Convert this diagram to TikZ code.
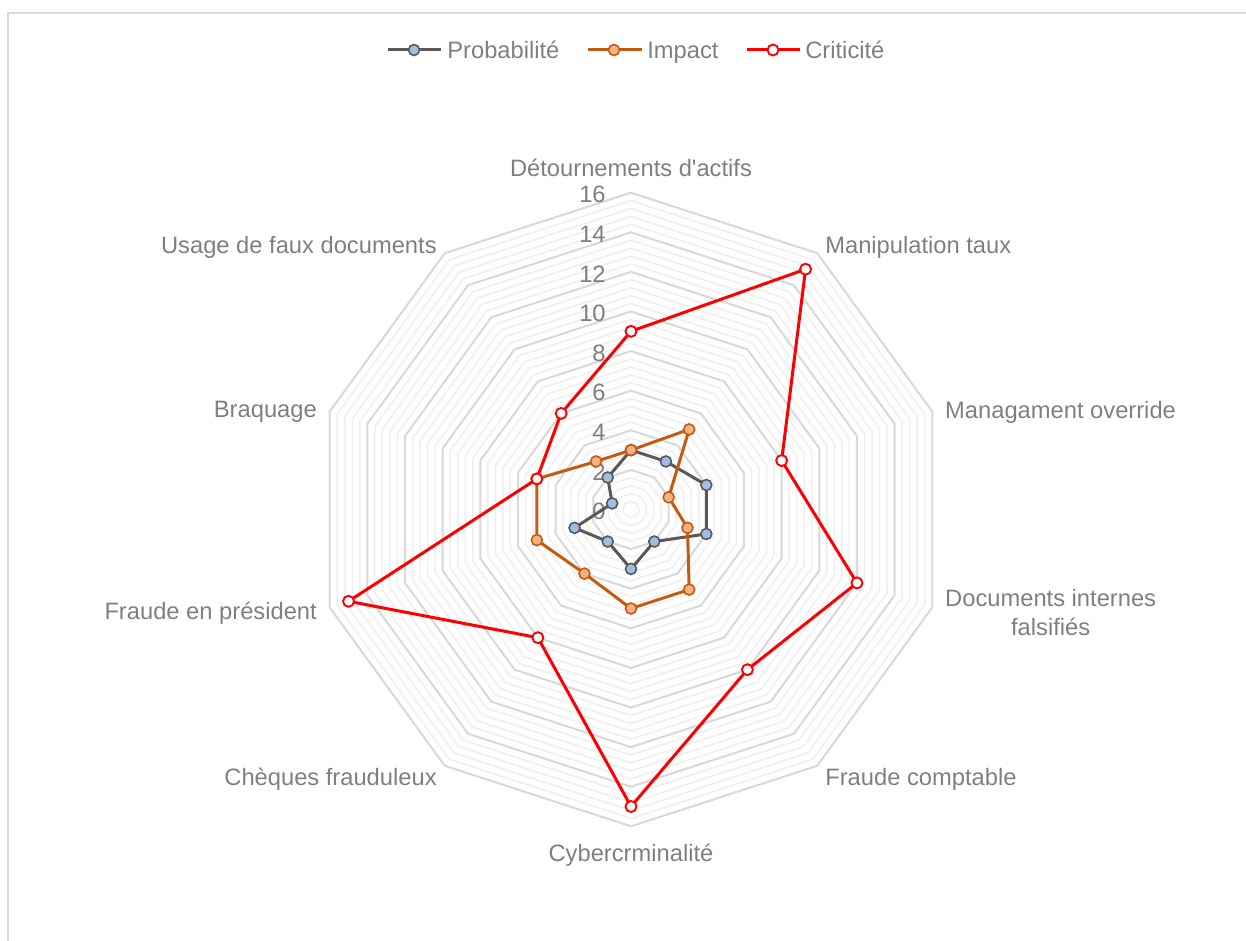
\documentclass[tikz,border=0pt]{standalone}
\usepackage{fontspec}
\setmainfont{Liberation Sans}
\usetikzlibrary{calc}
\definecolor{gridmaj}{HTML}{D9D9D9}
\definecolor{gridmin}{HTML}{EFEFEF}
\definecolor{txtgray}{HTML}{7F7F7F}
\definecolor{probgray}{HTML}{595959}
\definecolor{probfill}{HTML}{9DBFE6}
\definecolor{impbrown}{HTML}{C55A11}
\definecolor{impfill}{HTML}{F4B183}
\definecolor{critred}{HTML}{FF0000}
\tikzset{
  frame/.style={draw=gridmaj,line width=0.04cm},
  gridminor/.style={draw=gridmin,line width=0.03cm},
  gridmajor/.style={draw=gridmaj,line width=0.04cm},
  ticklabel/.style={anchor=east,inner sep=0pt,text=txtgray},
  catlabel/.style={inner sep=0pt,text=txtgray,align=center},
  legtext/.style={anchor=base west,inner sep=0pt,text=txtgray},
  probline/.style={draw=probgray,line width=0.06cm,line join=round},
  impline/.style={draw=impbrown,line width=0.06cm,line join=round},
  critline/.style={draw=critred,line width=0.06cm,line join=round},
  probmark/.style={circle,draw=probgray,fill=probfill,line width=0.032cm,minimum size=0.22cm,inner sep=0pt},
  impmark/.style={circle,draw=impbrown,fill=impfill,line width=0.032cm,minimum size=0.22cm,inner sep=0pt},
  critmark/.style={circle,draw=critred,fill=white,line width=0.038cm,minimum size=0.22cm,inner sep=0pt}
}
\newcommand{\decagon}[2]{%
  \draw[#1] (90:#2) -- (54:#2) -- (18:#2) -- (-18:#2) -- (-54:#2) -- (-90:#2)
    -- (-126:#2) -- (-162:#2) -- (162:#2) -- (126:#2) -- cycle;}
\begin{document}
\begin{tikzpicture}[x=0.02cm,y=0.02cm,font=\fontsize{13.5}{16}\selectfont]
  \def\u{19.8}
  \useasboundingbox (-631,-430.5) rectangle (615,509.5);
  \draw[frame] (-623,-440) -- (-623,496.5) -- (625,496.5);

  % grid
  \foreach \i in {1,...,40} {\decagon{gridminor}{\i*0.4*\u}}
  \foreach \r in {2,4,...,16} {\decagon{gridmajor}{\r*\u}}
  \foreach \v in {0,2,...,16}
    \node[ticklabel] (tick\v) at (-25,\v*\u-2) {\v};

  % categories
  \foreach \a/\r/\dy/\anc/\lab [count=\n] in {
      90/343/-1/center/{Détournements d\textquotesingle actifs},
      54/330/-5/west/{Manipulation taux},
      18/330/-5/west/{Managament override},
      -18/330/-1/west/{Documents internes\\falsifiés},
      -54/330/-3/west/{Fraude comptable},
      -90/345/-1/center/{Cybercrminalité},
      -126/330/-3/east/{Chèques frauduleux},
      -162/330/-2/east/{Fraude en président},
      162/330/-4/east/{Braquage},
      126/330/-5/east/{Usage de faux documents}}
    \node[catlabel,anchor=\anc] (cat\n) at ($(\a:\r)+(0,\dy)$) {\lab};

  % series
  \foreach \v [count=\k from 0] in {3,3,4,4,2,3,2,3,1,2}
    \coordinate (prob\k) at (90-36*\k:\v*\u);
  \draw[probline] (prob0) \foreach \k in {1,...,9} {-- (prob\k)} -- cycle;
  \foreach \k in {0,...,9} \node[probmark] (probm\k) at (prob\k) {};

  \foreach \v [count=\k from 0] in {3,5,2,3,5,5,4,5,5,3}
    \coordinate (imp\k) at (90-36*\k:\v*\u);
  \draw[impline] (imp0) \foreach \k in {1,...,9} {-- (imp\k)} -- cycle;
  \foreach \k in {0,...,9} \node[impmark] (impm\k) at (imp\k) {};

  \foreach \v [count=\k from 0] in {9,15,8,12,10,15,8,15,5,6}
    \coordinate (crit\k) at (90-36*\k:\v*\u);
  \draw[critline] (crit0) \foreach \k in {1,...,9} {-- (crit\k)} -- cycle;
  \foreach \k in {0,...,9} \node[critmark] (critm\k) at (crit\k) {};

  % legend
  \coordinate (lpa) at (-243,459.5); \coordinate (lpb) at (-190,459.5);
  \coordinate (lia) at (-43,459.5);  \coordinate (lib) at (11,459.5);
  \coordinate (lca) at (116,459.5);  \coordinate (lcb) at (169,459.5);
  \draw[probline] (lpa) -- (lpb);
  \draw[impline] (lia) -- (lib);
  \draw[critline] (lca) -- (lcb);
  \node[probmark] (legpm) at (-217,459.5) {};
  \node[impmark] (legim) at (-17,459.5) {};
  \node[critmark] (legcm) at (142,459.5) {};
  \node[legtext] (legprob) at (-184,451) {Probabilité};
  \node[legtext] (legimp) at (16,451) {Impact};
  \node[legtext] (legcrit) at (174,451) {Criticité};
\end{tikzpicture}
\end{document}
